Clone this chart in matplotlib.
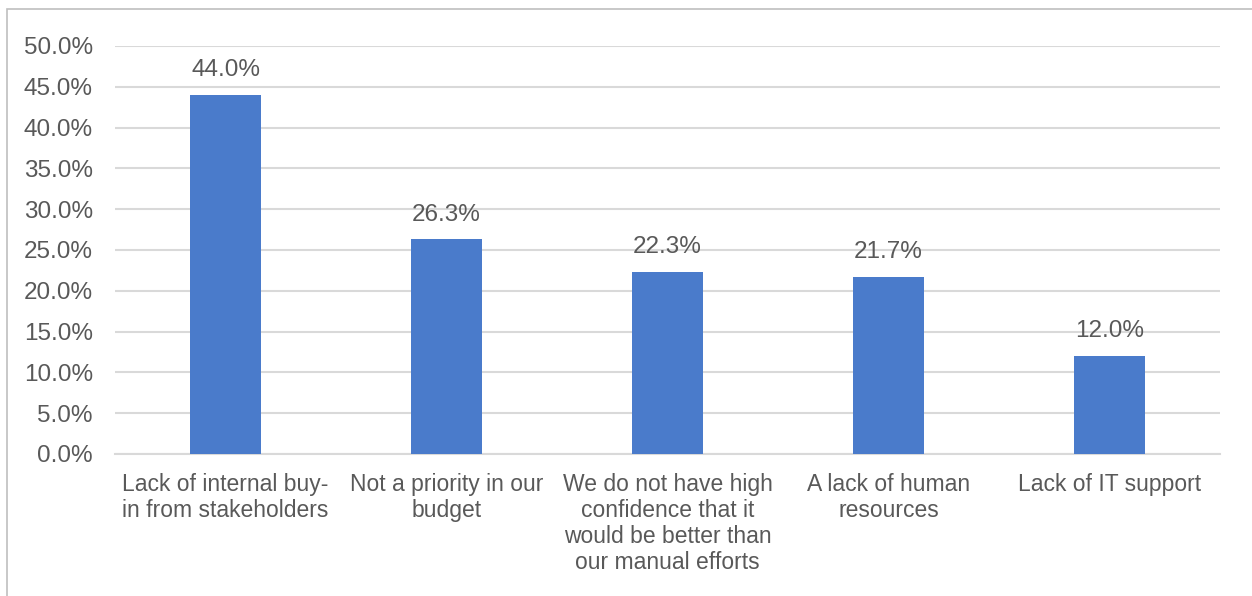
import matplotlib.pyplot as plt
from matplotlib.patches import Rectangle
from matplotlib.ticker import FuncFormatter

plt.rcParams['font.family'] = ['Liberation Sans', 'DejaVu Sans']

categories = [
    "Lack of internal buy-\nin from stakeholders",
    "Not a priority in our\nbudget",
    "We do not have high\nconfidence that it\nwould be better than\nour manual efforts",
    "A lack of human\nresources",
    "Lack of IT support",
]
values = [44.0, 26.3, 22.3, 21.7, 12.0]
yticks = [0, 5, 10, 15, 20, 25, 30, 35, 40, 45, 50]

TEXT = '#595959'
GRID = '#D9D9D9'
BAR = '#4A7BCB'

fig = plt.figure(figsize=(12.52, 5.96), dpi=100)
ax = fig.add_axes([115 / 1252, 1 - 454 / 596, 1105 / 1252, 408 / 596])

x = list(range(len(categories)))
bars = ax.bar(x, values, width=0.317, color=BAR, zorder=3)
for b, v in zip(bars, values):
    ax.annotate(f"{v:.1f}%", (b.get_x() + b.get_width() / 2, v),
                xytext=(0, 10), textcoords='offset points',
                ha='center', va='bottom', fontsize=17.5, color=TEXT)

ax.set_xlim(-0.5, len(categories) - 0.5)
ax.set_ylim(0, 50)
ax.set_yticks(yticks)
ax.yaxis.set_major_formatter(FuncFormatter(lambda v, _: f"{v:.1f}%"))
ax.set_xticks(x)
ax.set_xticklabels(categories, linespacing=1.15, va='top')
ax.tick_params(axis='y', length=0, pad=16, labelsize=17.5, labelcolor=TEXT)
ax.tick_params(axis='x', length=0, pad=14, labelsize=16.5, labelcolor=TEXT)
ax.grid(axis='y', color=GRID, linewidth=1.5, zorder=0)
for s in ['top', 'right', 'left']:
    ax.spines[s].set_visible(False)
ax.spines['bottom'].set_color(GRID)
ax.spines['bottom'].set_linewidth(1.5)

# outer chart border (only top and left edges fall inside the picture)
fig.patches.append(Rectangle((7 / 1252, -0.1), 1.2, 1 - 8.5 / 596 + 0.1,
                             transform=fig.transFigure, fill=False,
                             edgecolor='#BFBFBF', linewidth=1.2))

fig.savefig('out.png', dpi=100)
